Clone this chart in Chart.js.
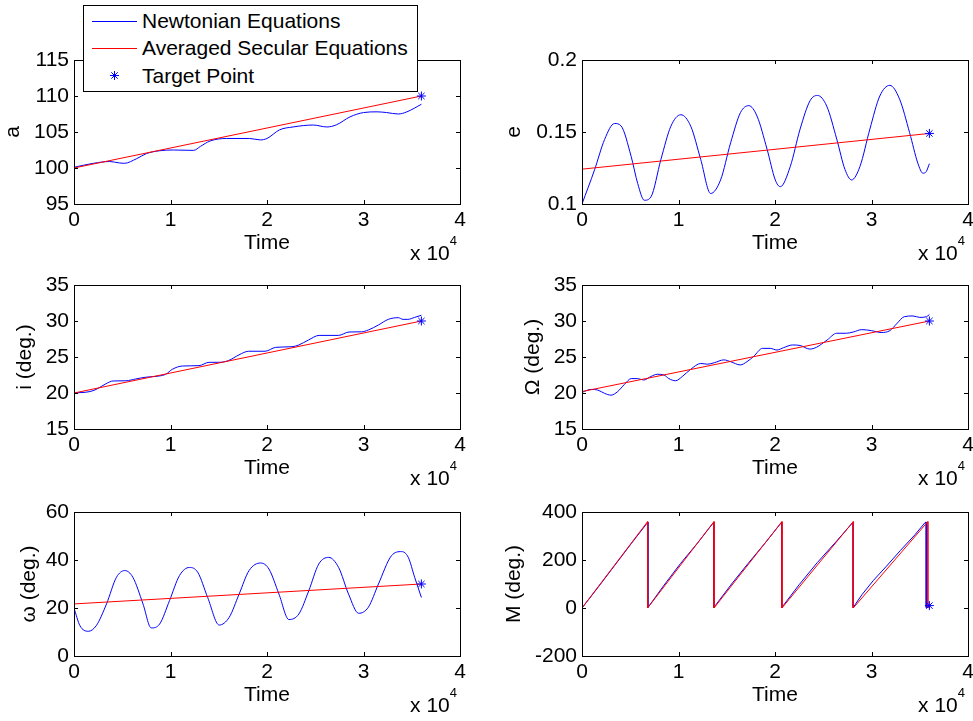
<!DOCTYPE html>
<html><head><meta charset="utf-8">
<script src="https://cdn.jsdelivr.net/npm/chart.js@4.4.0/dist/chart.umd.min.js"></script>
<style>
html,body{margin:0;padding:0;width:973px;height:721px;overflow:hidden;background:#fff;font-family:'Liberation Sans',Arial,sans-serif;}
#wrap{position:relative;width:973px;height:721px;overflow:hidden;}
canvas{position:absolute;}
.exp{position:absolute;font-size:21px;line-height:24px;white-space:nowrap;color:#000;}
.exp span{position:relative;top:-15px;font-size:13px;}
#legend{position:absolute;left:83px;top:5px;width:333px;height:85px;border:1px solid #000;background:#fff;z-index:5;}
#legend .sw{position:absolute;left:8px;width:45px;height:0;border-top:1px solid;}
#legend .tx{position:absolute;left:58px;font-size:21px;line-height:24px;white-space:nowrap;color:#000;}
#legend svg{position:absolute;}
</style>
</head><body>
<div id="wrap">
<canvas id="cA"></canvas><canvas id="cE"></canvas>
<canvas id="cI"></canvas><canvas id="cO"></canvas>
<canvas id="cW"></canvas><canvas id="cM"></canvas>
<div class="exp" style="right:516px;top:241px">x 10<span>4</span></div>
<div class="exp" style="right:8px;top:241px">x 10<span>4</span></div>
<div class="exp" style="right:516px;top:466px">x 10<span>4</span></div>
<div class="exp" style="right:8px;top:466px">x 10<span>4</span></div>
<div class="exp" style="right:516px;top:693px">x 10<span>4</span></div>
<div class="exp" style="right:8px;top:693px">x 10<span>4</span></div>
<div id="legend">
  <div class="sw" style="top:15px;border-color:#0000ff"></div>
  <div class="tx" style="top:3px">Newtonian Equations</div>
  <div class="sw" style="top:42px;border-color:#ff0000"></div>
  <div class="tx" style="top:30px">Averaged Secular Equations</div>
  <svg width="11" height="11" style="left:25px;top:64px" viewBox="-5.5 -5.5 11 11"><g stroke="#0000ff" stroke-width="1"><line x1="0" y1="-4.5" x2="0" y2="4.5"/><line x1="-4.5" y1="0" x2="4.5" y2="0"/><line x1="-3.2" y1="-3.2" x2="3.2" y2="3.2"/><line x1="-3.2" y1="3.2" x2="3.2" y2="-3.2"/></g></svg>
  <div class="tx" style="top:58px">Target Point</div>
</div>
</div>
<script>
// ---------- data (time axis shown as x 10^4) ----------
const xTickLabels = ['0', '1', '2', '3', '4'];
const secTime = [0, 36000];
const targetTime = 36000;

// a
const tA = [0, 2000, 3700, 4700, 5200, 6500, 7500, 8900, 10300, 12400, 13100, 14100, 15800, 18200, 19300, 20000, 21300, 22700, 24800, 26200, 27200, 28600, 30000, 31400, 32400, 33600, 34500, 36000];
const newtonA = [100.1, 100.65, 100.9, 100.7, 100.65, 101.3, 102.0, 102.4, 102.5, 102.45, 103.0, 103.75, 104.1, 104.1, 103.9, 104.1, 105.3, 105.7, 105.97, 105.7, 106.0, 107.1, 107.7, 107.8, 107.7, 107.5, 107.8, 108.85];
const secularA = [100, 110];
const targetA = 110;

// e
const tE = [0, 1300, 2340, 3370, 4050, 5090, 5770, 6460, 7150, 8180, 9210, 10240, 11270, 12300, 13330, 14360, 15400, 16430, 17290, 18140, 19180, 20030, 20550, 21580, 22600, 23640, 24400, 25360, 26400, 27250, 27940, 28800, 29830, 30860, 31900, 32900, 33950, 34800, 35330, 35670, 36000];
const newtonE = [0.1, 0.1237, 0.1448, 0.1559, 0.1542, 0.1331, 0.1143, 0.1026, 0.105, 0.131, 0.154, 0.162, 0.154, 0.131, 0.1073, 0.1167, 0.1425, 0.1636, 0.1683, 0.161, 0.138, 0.1167, 0.112, 0.126, 0.152, 0.1718, 0.1754, 0.168, 0.145, 0.124, 0.1167, 0.126, 0.152, 0.175, 0.1824, 0.173, 0.1495, 0.1284, 0.1214, 0.1225, 0.128];
const secularE = [0.1242, 0.149];
const targetE = 0.149;

// i
const tI = [0, 1650, 2300, 3330, 4050, 5400, 6400, 7460, 8830, 9500, 10200, 11240, 12950, 14000, 15000, 16000, 17100, 18100, 19800, 20900, 22600, 23300, 24300, 25400, 27400, 28500, 29800, 30500, 31550, 32570, 33600, 34100, 34600, 35300, 36000];
const newtonI = [20.0, 20.2, 20.5, 21.3, 21.67, 21.7, 21.95, 22.2, 22.36, 22.6, 23.3, 23.75, 23.8, 24.26, 24.26, 24.5, 25.3, 25.8, 25.8, 26.34, 26.43, 26.67, 27.36, 28.0, 28.0, 28.47, 28.5, 28.75, 29.45, 30.23, 30.46, 30.23, 30.23, 30.5, 30.8];
const secularI = [20, 30];
const targetI = 30;

// Omega
const tO = [0, 960, 1650, 2340, 3000, 3700, 4400, 5100, 5770, 6400, 7150, 7800, 8500, 9000, 9700, 10400, 11270, 12300, 13000, 13700, 14700, 15400, 16400, 17100, 17800, 18700, 19500, 20200, 20900, 21800, 22600, 23600, 24300, 25400, 26400, 27400, 28100, 29000, 30000, 31000, 31900, 32600, 33400, 34300, 35000, 35700, 36000];
const newtonO = [20.1, 20.5, 20.4, 19.95, 19.7, 20.2, 21.2, 22.0, 22.0, 21.8, 22.3, 22.6, 22.5, 22.0, 21.7, 22.3, 23.3, 24.1, 24.0, 24.2, 24.6, 24.35, 23.9, 24.35, 25.1, 26.2, 26.2, 25.97, 26.3, 26.67, 26.6, 26.1, 26.35, 27.36, 28.3, 28.3, 28.47, 28.8, 28.66, 28.4, 28.66, 29.6, 30.6, 30.7, 30.5, 30.6, 30.9];
const secularO = [20.2, 30];
const targetO = 30;

// omega
const tW = [0, 620, 1480, 2300, 3370, 4400, 5260, 6100, 7150, 8000, 8870, 9900, 10930, 11960, 12820, 13850, 15050, 16080, 17110, 18140, 19350, 20200, 21240, 22270, 23300, 24330, 25360, 26400, 27420, 28450, 29500, 30500, 31550, 32900, 33950, 34640, 35300, 36000];
const newtonW = [20, 12.6, 10.3, 12.6, 21.7, 32.8, 35.6, 32.8, 21.7, 11.7, 13.3, 23.1, 33.5, 36.9, 34.9, 24.4, 12.9, 16.1, 25.8, 35.6, 38.75, 36.25, 25.8, 15.2, 17.5, 27.2, 38.3, 41.1, 36.9, 25.8, 17.8, 20.3, 30.0, 41.8, 43.5, 41.1, 32.8, 24.4];
const secularW = [21.7, 30];
const targetW = 30;

// M
const tMn = [0, 1700, 3400, 5100, 6830, 6830, 8500, 10200, 12000, 13660, 13660, 15500, 17200, 19000, 20700, 20700, 22500, 24400, 26300, 28100, 28100, 29000, 30200, 31500, 33000, 34500, 35550, 35670, 35670, 36000];
const newtonM = [0, 88, 178, 268, 358, 2, 95, 185, 272, 358, 2, 100, 185, 272, 358, 2, 97, 190, 275, 358, 2, 55, 115, 172, 240, 305, 356, 358, 2, 12];
const tMs = [0, 6800, 6800, 13680, 13680, 20720, 20720, 28110, 28110, 35840, 35840, 36000];
const secularM = [0, 360, 0, 360, 0, 360, 0, 360, 0, 360, 0, 8];
const targetM = 10;

// ---------- drawing ----------
Chart.defaults.font.family = "'Liberation Sans', Arial, sans-serif";
Chart.defaults.font.size = 21;
Chart.defaults.color = '#000';

const boxPlugin = {
  id: 'matlabBox',
  afterDatasetsDraw(chart) {
    const {ctx, chartArea: a} = chart;
    const xs = chart.scales.x, ys = chart.scales.y;
    const L = Math.round(a.left), T = Math.round(a.top), R = Math.round(a.right), B = Math.round(a.bottom);
    ctx.save();
    ctx.strokeStyle = '#000';
    ctx.lineWidth = 1;
    ctx.strokeRect(L + 0.5, T + 0.5, R - L, B - T);
    const len = 4;
    ctx.beginPath();
    xs.ticks.forEach(t => {
      const p = Math.round(xs.getPixelForValue(t.value)) + 0.5;
      ctx.moveTo(p, B); ctx.lineTo(p, B - len);
      ctx.moveTo(p, T); ctx.lineTo(p, T + len);
    });
    ys.ticks.forEach(t => {
      const p = Math.round(ys.getPixelForValue(t.value)) + 0.5;
      ctx.moveTo(L, p); ctx.lineTo(L + len, p);
      ctx.moveTo(R, p); ctx.lineTo(R - len, p);
    });
    ctx.stroke();
    ctx.restore();
  }
};

function pts(xs, ys) { return xs.map((x, i) => ({x: x, y: ys[i]})); }

function panel(id, p) {
  const cv = document.getElementById(id);
  cv.width = p.w; cv.height = 224;
  cv.style.left = p.left + 'px'; cv.style.top = p.top + 'px';
  new Chart(cv, {
    type: 'line',
    data: {
      datasets: [
        {label: 'Target Point', data: [{x: targetTime, y: p.target}], showLine: false, pointStyle: 'star', pointRadius: 4.5, pointBorderColor: '#0000ff', pointBackgroundColor: '#0000ff', pointBorderWidth: 1, order: 0},
        {label: 'Averaged Secular Equations', data: pts(p.ts, p.sec), borderColor: '#ff0000', borderWidth: 1, pointRadius: 0, tension: 0, order: 1},
        {label: 'Newtonian Equations', data: pts(p.tn, p.newt), borderColor: '#0000ff', borderWidth: 1, pointRadius: 0, cubicInterpolationMode: p.smooth ? 'monotone' : 'default', tension: 0, order: 2}
      ]
    },
    options: {
      responsive: false, animation: false, devicePixelRatio: 1,
      layout: {padding: {left: 0, top: 20, right: 13, bottom: 0}},
      plugins: {legend: {display: false}, tooltip: {enabled: false}},
      scales: {
        x: {
          type: 'linear', min: 0, max: 40000,
          border: {display: false}, grid: {display: false, drawTicks: false},
          ticks: {stepSize: 10000, padding: 4, maxRotation: 0, autoSkip: false,
                  callback: (v) => xTickLabels[Math.round(v / 10000)]},
          title: {display: true, text: 'Time', padding: {top: 0, bottom: 8}},
          afterFit: (s) => { s.height = 60; }
        },
        y: {
          type: 'linear', min: p.ymin, max: p.ymax,
          border: {display: false}, grid: {display: false, drawTicks: false},
          ticks: {stepSize: p.ystep, padding: 5, callback: (v) => String(+v.toFixed(2))},
          title: {display: true, text: p.ylabel, padding: {top: p.tpad, bottom: 0}},
          afterFit: (s) => { s.width = p.yw; }
        }
      }
    },
    plugins: [boxPlugin]
  });
}

const LEFT = {left: 0, w: 473, yw: 74};
const RIGHT = {left: 486, w: 495, yw: 96};

panel('cA', Object.assign({}, LEFT, {top: 40, ymin: 95, ymax: 115, ystep: 5, ylabel: 'a', tpad: 1, tn: tA, newt: newtonA, ts: secTime, sec: secularA, target: targetA, smooth: true}));
panel('cE', Object.assign({}, RIGHT, {top: 40, ymin: 0.1, ymax: 0.2, ystep: 0.05, ylabel: 'e', tpad: 16, tn: tE, newt: newtonE, ts: secTime, sec: secularE, target: targetE, smooth: true}));
panel('cI', Object.assign({}, LEFT, {top: 265, ymin: 15, ymax: 35, ystep: 5, ylabel: 'i (deg.)', tpad: 13, tn: tI, newt: newtonI, ts: secTime, sec: secularI, target: targetI, smooth: true}));
panel('cO', Object.assign({}, RIGHT, {top: 265, ymin: 15, ymax: 35, ystep: 5, ylabel: 'Ω (deg.)', tpad: 35, tn: tO, newt: newtonO, ts: secTime, sec: secularO, target: targetO, smooth: true}));
panel('cW', Object.assign({}, LEFT, {top: 492, ymin: 0, ymax: 60, ystep: 20, ylabel: 'ω (deg.)', tpad: 17, tn: tW, newt: newtonW, ts: secTime, sec: secularW, target: targetW, smooth: true}));
panel('cM', Object.assign({}, RIGHT, {top: 492, ymin: -200, ymax: 400, ystep: 200, ylabel: 'M (deg.)', tpad: 16, tn: tMn, newt: newtonM, ts: tMs, sec: secularM, target: targetM, smooth: false}));
</script>
</body></html>
